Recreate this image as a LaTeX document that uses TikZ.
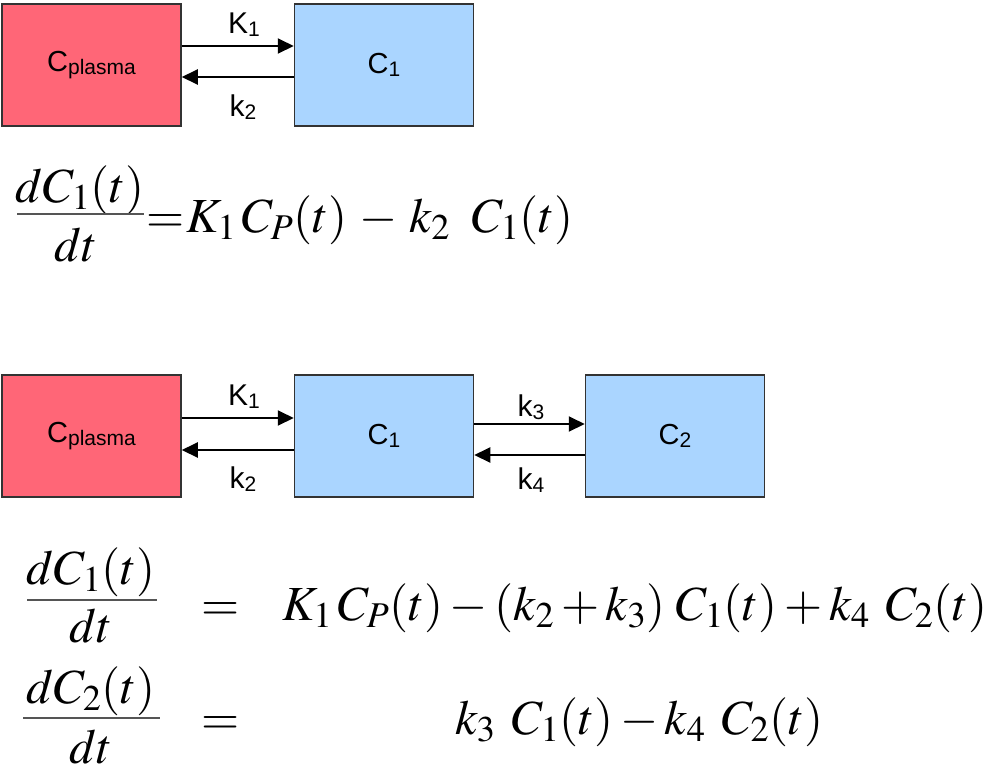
\documentclass[tikz,border=0pt]{standalone}
\usepackage{mathptmx}
\usepackage{graphicx}
\usepackage[no-math]{fontspec}
\newfontfamily\lbl{Liberation Sans}
\usetikzlibrary{arrows.meta}
\definecolor{plasmared}{HTML}{FF6677}
\definecolor{tissueblue}{HTML}{AAD5FF}
\definecolor{edgegray}{HTML}{333333}
\definecolor{bargray}{HTML}{555555}
\newcommand{\lsub}[1]{\raisebox{-0.22ex}{\fontsize{21}{21}\selectfont #1}}
\begin{document}
\begin{tikzpicture}[x=1pt,y=-1pt,
  cbox/.style={draw=edgegray, line width=1.5pt, inner sep=0pt,
    minimum width=179pt, minimum height=122pt,
    font=\lbl\fontsize{29}{30}\selectfont},
  redbox/.style={cbox, fill=plasmared},
  bluebox/.style={cbox, fill=tissueblue},
  flow/.style={line width=2pt, -{Triangle[length=16pt,width=15pt]}},
  rate/.style={inner sep=0pt, anchor=base, font=\lbl\fontsize{30}{30}\selectfont},
  eqtxt/.style={inner sep=0pt, font=\fontsize{49}{56}\selectfont},
  fbar/.style={line width=2pt, draw=bargray}]
\useasboundingbox (0,0) rectangle (986,772);
% ---------- top model ----------
\node[redbox]  (p1) at (91.5,65) {C\lsub{plasma}};
\node[bluebox] (a1) at (384,65) {C\lsub{1}};
\draw[flow] ([yshift=19pt]p1.east) -- ([yshift=19pt]a1.west);
\draw[flow] ([yshift=-12pt]a1.west) -- ([yshift=-12pt]p1.east);
\node[rate] (K1a) at (244,33) {K\lsub{1}};
\node[rate] (k2a) at (243,116) {k\lsub{2}};
% top equation
\node[eqtxt, anchor=base] (n1) at (80,202) {$dC_1(t)$};
\node[eqtxt, anchor=base] (d1) at (76,261) {$dt$};
\draw[fbar] (17,214) -- (144,214);
\node[eqtxt, anchor=base] (e1) at (166,232) {$=$};
\node[eqtxt, anchor=base west] (r1) at (186,232) {$K_1\,C_P(t)\,-\,k_2\;\;C_1(t)$};
% ---------- bottom model ----------
\node[redbox]  (p2) at (91.5,436) {C\lsub{plasma}};
\node[bluebox] (a2) at (384,436) {C\lsub{1}};
\node[bluebox] (b2) at (675,436) {C\lsub{2}};
\draw[flow] ([yshift=18pt]p2.east) -- ([yshift=18pt]a2.west);
\draw[flow] ([yshift=-14pt]a2.west) -- ([yshift=-14pt]p2.east);
\draw[flow] ([yshift=12pt]a2.east) -- ([yshift=12pt]b2.west);
\draw[flow] ([yshift=-19pt]b2.west) -- ([yshift=-19pt]a2.east);
\node[rate] (K1b) at (244,405) {K\lsub{1}};
\node[rate] (k2b) at (243,488) {k\lsub{2}};
\node[rate] (k3b) at (531,416) {k\lsub{3}};
\node[rate] (k4b) at (531,489) {k\lsub{4}};
% bottom equations
\node[eqtxt, anchor=base] (n2) at (91,584) {$dC_1(t)$};
\node[eqtxt, anchor=base] (d2) at (91,642) {$dt$};
\draw[fbar, line width=2.5pt] (27,600) -- (157,600);
\node[eqtxt, anchor=base] (e2) at (221,620) {$=$};
\node[eqtxt, anchor=base west] (r2) at (282,620) {$K_1\,C_P(t)-(k_2+k_3)\;C_1(t)+k_4\;\,C_2(t)$};
\node[eqtxt, anchor=base] (n3) at (91,703) {$dC_2(t)$};
\node[eqtxt, anchor=base] (d3) at (91,763) {$dt$};
\draw[fbar, line width=2.5pt] (23,718) -- (160,718);
\node[eqtxt, anchor=base] (e3) at (221,734) {$=$};
\node[eqtxt, anchor=base west] (r3) at (455,734) {$k_3\;\,C_1(t)-k_4\;\,C_2(t)$};
\end{tikzpicture}
\end{document}
